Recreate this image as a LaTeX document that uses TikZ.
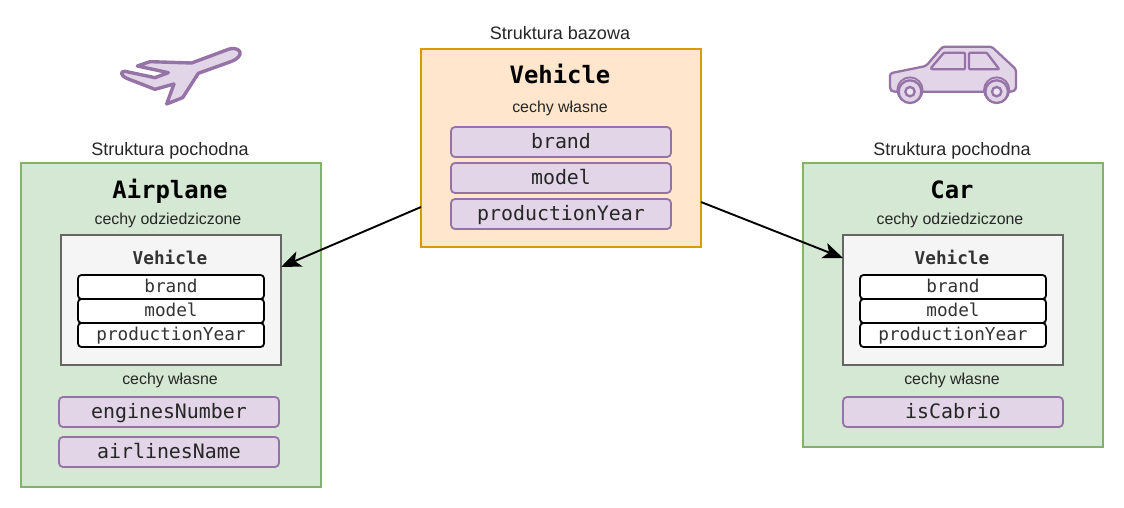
\documentclass[tikz,border=0pt]{standalone}
\usepackage{fontspec}
\setmainfont{Liberation Sans}
\newfontfamily\monof{DejaVu Sans Mono}
\usetikzlibrary{arrows.meta,calc}
\definecolor{pfill}{HTML}{E1D5E7}
\definecolor{pline}{HTML}{9673A6}
\definecolor{gfill}{HTML}{D5E8D4}
\definecolor{gline}{HTML}{82B366}
\definecolor{ofill}{HTML}{FFE6CC}
\definecolor{oline}{HTML}{D79B00}
\definecolor{sfill}{HTML}{F5F5F5}
\definecolor{sline}{HTML}{666666}
\tikzset{
  x=1pt,y=-1pt,
  panel/.style={draw,line width=1.8pt,minimum height=#1,inner sep=0,outer sep=0,minimum width=280pt,anchor=north west},
  capt/.style={font=\fontsize{18}{20}\selectfont,text=black!85,inner sep=0,anchor=base},
  note/.style={font=\fontsize{15.9}{18}\selectfont,text=black!85,inner sep=0,anchor=base},
  title/.style={font=\monof\bfseries\fontsize{23.9}{26}\selectfont,inner sep=0,anchor=base},
  subtitle/.style={font=\monof\bfseries\fontsize{17.7}{20}\selectfont,text=black!80,inner sep=0,anchor=base},
  field/.style={draw=pline,fill=pfill,line width=1.8pt,rounded corners=4pt,minimum width=#1,minimum height=30pt,inner sep=0,outer sep=0,text height=15pt,text depth=3pt,font=\monof\fontsize{19.9}{22}\selectfont,text=black!85},
  inherited/.style={draw=black,fill=white,line width=1.8pt,rounded corners=3.5pt,minimum width=186pt,minimum height=24pt,inner sep=0,outer sep=0,text height=14pt,text depth=3pt,font=\monof\fontsize{17.7}{20}\selectfont,text=black!80},
  greybox/.style={draw=sline,fill=sfill,line width=1.8pt,minimum width=220pt,minimum height=130pt,inner sep=0,outer sep=0,anchor=north west},
  link/.style={draw=black,line width=1.9pt,-{Stealth[length=20pt,width=16pt,inset=5pt]}},
  icon/.style={draw=pline,fill=pfill,line join=round},
}
\begin{document}
\begin{tikzpicture}
\useasboundingbox (0,0) rectangle (1124,508);
% base
\node[panel=198pt,minimum width=280pt,draw=oline,fill=ofill] (vehicle) at (421,49) {};
\node[capt] (baseCap) at (560,40) {Struktura bazowa};
\node[title] (baseT) at (560,84) {Vehicle};
\node[note] (baseOwn) at (560,113) {cechy własne};
\node[field=220pt] (b1) at (561,142) {brand};
\node[field=220pt] (b2) at (561,178) {model};
\node[field=220pt] (b3) at (561,214) {productionYear};
% airplane
\node[panel=324pt,minimum width=300pt,draw=gline,fill=gfill] (airplane) at (21,163) {};
\node[capt] (aCap) at (170,156) {Struktura pochodna};
\node[title] (aT) at (170,198) {Airplane};
\node[note] (aInh) at (168,224) {cechy odziedziczone};
\node[greybox] (aBase) at (61,235) {};
\node[subtitle] (aV) at (170,264) {Vehicle};
\node[inherited] (a1) at (171,287) {brand};
\node[inherited] (a2) at (171,311) {model};
\node[inherited] (a3) at (171,335) {productionYear};
\node[note] (aOwn) at (170,384) {cechy własne};
\node[field=220pt] (a4) at (169,412) {enginesNumber};
\node[field=220pt] (a5) at (169,452) {airlinesName};
% car
\node[panel=284pt,minimum width=300pt,draw=gline,fill=gfill] (car) at (803,163) {};
\node[capt] (cCap) at (952,156) {Struktura pochodna};
\node[title] (cT) at (952,198) {Car};
\node[note] (cInh) at (950,224) {cechy odziedziczone};
\node[greybox] (cBase) at (843,235) {};
\node[subtitle] (cV) at (952,264) {Vehicle};
\node[inherited] (c1) at (953,287) {brand};
\node[inherited] (c2) at (953,311) {model};
\node[inherited] (c3) at (953,335) {productionYear};
\node[note] (cOwn) at (952,384) {cechy własne};
\node[field=220pt] (c4) at (953,412) {isCabrio};
% connectors
\draw[link] ([yshift=-59pt]vehicle.west) -- ([yshift=33pt]aBase.east);
\draw[link] ([yshift=-54pt]vehicle.east) -- ([yshift=42pt]cBase.west);
% airplane icon
\begin{scope}[shift={(100,30)},x=0.3333pt,y=-0.3333pt]
\draw[icon,line width=3.4pt] (75,124) -- (165,143) -- (205,128) -- (112,108) -- (150,95) -- (275,99) -- (385,58)
  .. controls (410,50) and (424,62) .. (420,73)
  .. controls (416,84) and (405,90) .. (395,94)
  -- (295,130) -- (248,203) -- (200,222) -- (222,162) -- (165,178) -- (80,145)
  .. controls (62,138) and (60,122) .. (75,124) -- cycle;
\end{scope}
% car icon
\begin{scope}[shift={(870,30)},x=0.3333pt,y=-0.3333pt]
\draw[icon,line width=2.3pt,rounded corners=2.5pt] (60,130) -- (168,108) -- (218,50) -- (365,50) -- (438,118) -- (438,178) -- (428,185) -- (68,185) -- (60,178) -- cycle;
\draw[icon,line width=2.3pt,rounded corners=1pt] (182,115) -- (222,68) -- (285,68) -- (285,118) -- (186,118) -- cycle;
\draw[icon,line width=2.3pt,rounded corners=1pt] (297,68) -- (350,68) -- (388,118) -- (297,118) -- cycle;
\foreach \c in {120,380}{
  \draw[icon,line width=1.8pt] (\c,180) circle[radius=38];
  \draw[icon,line width=2.3pt] (\c,185) circle[radius=34];
  \draw[draw=pline,fill=white!40!pfill,line width=2.3pt] (\c,185) circle[radius=14];
}
\end{scope}
\end{tikzpicture}
\end{document}
